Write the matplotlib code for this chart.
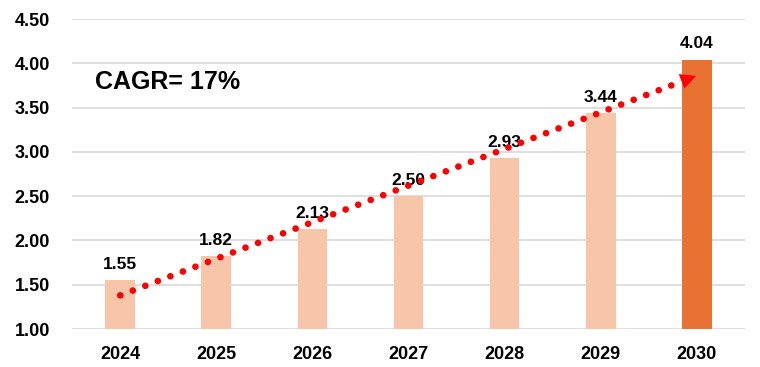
import matplotlib.pyplot as plt

plt.rcParams['font.family'] = ['Liberation Sans', 'DejaVu Sans']

# data
years = ['2024', '2025', '2026', '2027', '2028', '2029', '2030']
values = [1.55, 1.82, 2.13, 2.50, 2.93, 3.44, 4.04]
trend_start = 1.38
trend_end = 3.86
cagr_text = 'CAGR= 17%'

light = '#F7C6A9'
dark = '#E97132'
colors = [light] * (len(years) - 1) + [dark]

fig = plt.figure(figsize=(7.6, 3.67), dpi=100)
ax = fig.add_axes([0.095, 0.1035, 0.885, 0.8445])

x = list(range(len(years)))
ax.bar(x, values, width=0.31, color=colors, zorder=2)

for xi, v in zip(x, values):
    ax.annotate('%.2f' % v, (xi, v), xytext=(0, 6), textcoords='offset points',
                ha='center', va='bottom', fontsize=12.5, fontweight='bold')

# dotted trend arrow
x0, x1 = x[0], x[-1]
frac = 0.96
xe = x0 + (x1 - x0) * frac
ye = trend_start + (trend_end - trend_start) * frac
ax.plot([x0, xe], [trend_start, ye], color='red', lw=4.8,
        linestyle=(0, (0.01, 2.0)), dash_capstyle='round', zorder=3)
ax.annotate('', xy=(x1 + 0.02, trend_end + 0.01), xytext=(xe - 0.2, ye - 0.08),
            arrowprops=dict(arrowstyle='-|>', color='red', lw=0, mutation_scale=28),
            zorder=4)

ax.text(-0.26, 3.79, cagr_text, fontsize=18, fontweight='bold', va='center', ha='left')

ax.set_xlim(-0.5, 6.5)
ax.set_ylim(1.0, 4.5)
ax.set_yticks([1.0, 1.5, 2.0, 2.5, 3.0, 3.5, 4.0, 4.5])
ax.set_yticklabels(['%.2f' % t for t in ax.get_yticks()])
ax.set_xticks(x)
ax.set_xticklabels(years)
for lab in ax.get_xticklabels() + ax.get_yticklabels():
    lab.set_fontweight('bold')
    lab.set_fontsize(13)
ax.tick_params(axis='y', length=0, pad=16)
ax.tick_params(axis='x', length=0, pad=12)
ax.grid(axis='y', color='#D9D9D9', lw=1.2, zorder=0)
ax.set_axisbelow(True)
for s in ax.spines.values():
    s.set_visible(False)

fig.savefig('out.png', dpi=100)
